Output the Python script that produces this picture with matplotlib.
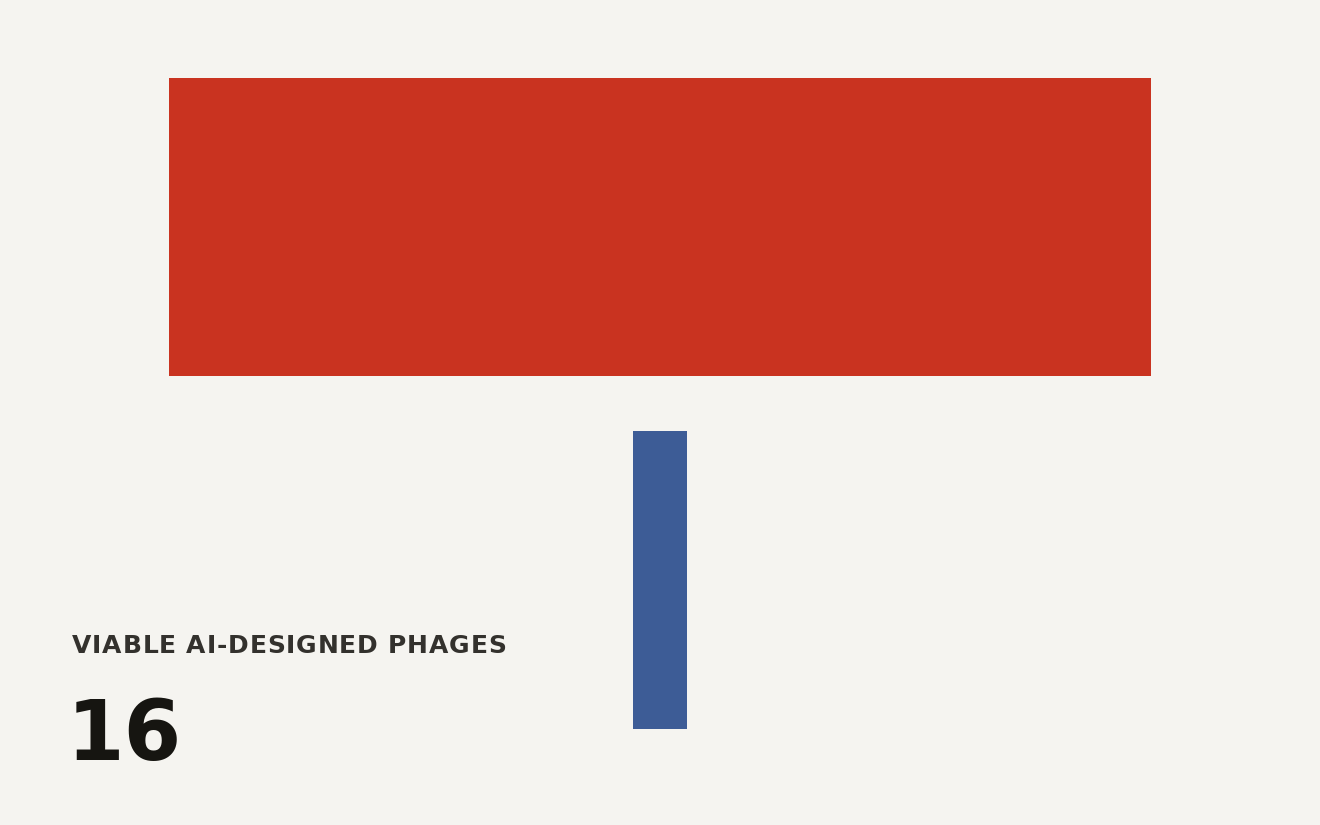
import matplotlib
matplotlib.use("Agg")
import matplotlib.pyplot as plt
from matplotlib.font_manager import FontProperties

# designed genomes vs viable phages
labels = ["AI-designed genomes", "Viable AI-designed phages"]
values = [294, 16]
colors = ["#c93320", "#3d5c96"]
title = "VIABLE AI-DESIGNED PHAGES"

W, H = 1320, 825
fig = plt.figure(figsize=(W / 100, H / 100), dpi=100)
fig.patch.set_facecolor("#f5f4f0")
ax = fig.add_axes([0, 0, 1, 1])
ax.set_facecolor("#f5f4f0")
ax.axis("off")

# horizontal scale: largest bar spans 982 px, centred at 660 px
upp = values[0] / 982.0
ax.set_xlim(-660 * upp, (W - 660) * upp)
ax.set_ylim(H, 0)

tops = [78, 431]
height = 297.5
for v, c, t in zip(values, colors, tops):
    ax.bar(0, height, width=v, bottom=t, color=c, align="center")

# header with a bit of letter spacing
fp = FontProperties(family="DejaVu Sans", weight="bold", size=18)
r = fig.canvas.get_renderer()
def tw(s):
    return r.get_text_width_height_descent(s + "I", fp, ismath=False)[0] - \
        r.get_text_width_height_descent("I", fp, ismath=False)[0]
for i, ch in enumerate(title):
    x = 72 + tw(title[:i]) + i * 0.82
    fig.text(x / W, 1 - 653 / H, ch, fontproperties=fp, color="#33312d",
             ha="left", va="baseline")

fig.text(67 / W, 1 - 760 / H, str(values[1]), fontsize=59.5,
         fontweight="bold", color="#161511", ha="left", va="baseline",
         family="DejaVu Sans")

fig.savefig("out.png", dpi=100, facecolor=fig.get_facecolor())
